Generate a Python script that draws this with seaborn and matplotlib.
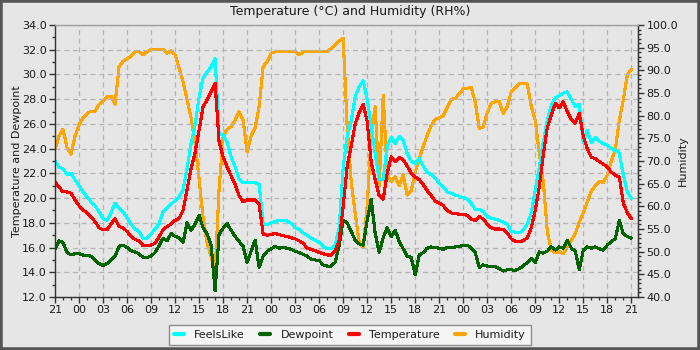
import numpy as np
import pandas as pd
import matplotlib
matplotlib.use("Agg")
import matplotlib.pyplot as plt
import seaborn as sns
from matplotlib.ticker import MultipleLocator, FixedLocator, FormatStrFormatter
from matplotlib.patches import Rectangle
from matplotlib.lines import Line2D

# Half-hourly readings over three days, starting at 21:00
feels_like = [
    23.0, 22.5, 22.4, 21.9, 22.0, 21.5, 21.0, 20.5, 20.1, 19.7,
    19.4, 18.9, 18.35, 18.2, 18.8, 19.6, 19.2, 18.9, 18.4, 17.9,
    17.5, 17.3, 16.75, 16.75, 17.1, 17.5, 17.9, 18.9, 19.2, 19.5,
    19.8, 20.1, 20.65, 22.4, 24.4, 25.9, 28.2, 29.7, 30.2, 30.6,
    31.3, 25.2, 25.1, 24.5, 23.35, 22.55, 21.5, 21.25, 21.3, 21.25,
    21.25, 21.1, 17.9, 17.85, 18.0, 18.1, 18.2, 18.2, 18.15, 17.95,
    17.6, 17.45, 17.2, 17.0, 16.75, 16.6, 16.4, 16.1, 15.9, 15.9,
    16.2, 17.6, 22.5, 25.0, 26.2, 28.2, 29.0, 29.5, 28.0, 25.8,
    23.6, 21.5, 21.5, 24.2, 24.9, 24.4, 25.0, 24.7, 23.6, 23.0,
    22.8, 23.2, 22.6, 22.1, 21.9, 21.6, 21.2, 20.9, 20.5, 20.4,
    20.25, 20.15, 20.05, 19.95, 19.55, 19.1, 19.1, 18.9, 18.55, 18.35,
    18.3, 18.2, 18.05, 17.9, 17.3, 17.25, 17.2, 17.4, 17.9, 18.8,
    20.65, 22.5, 24.5, 26.3, 27.5, 28.1, 28.3, 28.5, 28.6, 28.0,
    27.4, 27.6, 24.5, 25.5, 24.5, 24.9, 24.6, 24.4, 24.3, 24.0,
    23.9, 23.6, 21.9, 20.5, 20.0,
]

dewpoint = [
    15.9, 16.55, 16.4, 15.6, 15.4, 15.5, 15.5, 15.4, 15.35, 15.3,
    15.0, 14.7, 14.55, 14.7, 15.0, 15.3, 16.1, 16.2, 16.0, 15.75,
    15.65, 15.5, 15.2, 15.2, 15.3, 15.6, 16.15, 16.75, 16.55, 17.15,
    16.9, 16.8, 16.4, 18.0, 17.4, 17.9, 18.6, 17.6, 17.1, 16.2,
    12.5, 17.1, 17.55, 17.95, 17.4, 16.9, 16.5, 16.1, 14.8, 15.7,
    16.6, 14.4, 15.3, 15.7, 15.9, 16.1, 15.95, 16.0, 15.95, 15.85,
    15.7, 15.6, 15.45, 15.3, 15.05, 15.0, 14.95, 14.6, 14.5, 14.5,
    14.8, 16.2, 18.2, 18.0, 17.3, 16.6, 16.3, 16.2, 18.2, 19.9,
    17.15, 15.6, 16.8, 17.6, 16.9, 17.4, 16.5, 15.9, 15.3, 15.2,
    13.8, 15.4, 15.6, 15.95, 16.05, 16.0, 15.95, 15.85, 16.0, 16.0,
    16.05, 16.1, 16.15, 16.2, 15.95, 15.6, 14.4, 14.6, 14.5, 14.45,
    14.45, 14.3, 14.1, 14.2, 14.2, 14.15, 14.3, 14.5, 14.8, 15.1,
    14.8, 15.65, 15.55, 15.7, 16.05, 15.8, 16.05, 15.95, 16.6, 15.95,
    15.7, 14.2, 15.8, 16.05, 15.95, 16.05, 15.9, 15.8, 16.2, 16.5,
    16.7, 18.2, 17.1, 16.9, 16.75,
]

temperature = [
    21.3, 20.9, 20.5, 20.5, 20.4, 19.85, 19.4, 19.05, 18.8, 18.45,
    18.1, 17.6, 17.45, 17.45, 17.9, 18.35, 17.7, 17.6, 17.3, 16.95,
    16.65, 16.55, 16.15, 16.15, 16.2, 16.35, 16.85, 17.45, 17.7, 17.9,
    18.2, 18.35, 19.0, 20.7, 22.4, 23.7, 25.5, 27.4, 27.95, 28.6,
    29.3, 24.5, 23.35, 22.5, 21.8, 21.1, 20.2, 19.7, 19.85, 19.85,
    19.85, 19.5, 17.1, 17.0, 17.05, 17.15, 17.05, 16.95, 16.9, 16.8,
    16.7, 16.55, 16.35, 15.95, 15.85, 15.75, 15.6, 15.5, 15.4, 15.4,
    15.7, 16.6, 19.3, 22.6, 24.2, 26.0, 26.9, 27.6, 26.2, 22.9,
    21.5, 20.2, 19.9, 22.0, 23.35, 22.95, 23.3, 23.1, 22.6, 22.0,
    21.7, 21.5, 21.1, 20.6, 20.2, 19.75, 19.6, 19.4, 19.0, 18.8,
    18.75, 18.7, 18.7, 18.6, 18.3, 18.2, 18.5, 18.3, 17.9, 17.6,
    17.5, 17.5, 17.45, 17.2, 16.7, 16.5, 16.5, 16.55, 16.8, 17.6,
    19.0, 20.9, 23.5, 25.7, 26.7, 27.65, 27.3, 27.8, 27.0, 26.35,
    26.05, 26.85, 25.0, 24.0, 23.3, 23.2, 22.95, 22.75, 22.5, 22.1,
    21.85, 21.7, 19.6, 18.8, 18.35,
]

humidity = [
    72.5, 75.5, 77.0, 73.0, 71.5, 75.5, 78.0, 79.5, 80.5, 81.0,
    81.0, 82.5, 83.2, 84.2, 84.3, 82.5, 90.8, 92.0, 92.5, 93.2,
    94.1, 94.1, 93.5, 94.1, 94.6, 94.6, 94.6, 94.6, 93.8, 94.3,
    93.5, 90.5, 87.5, 83.5, 79.5, 74.0, 66.0, 57.5, 52.0, 48.9,
    45.5, 64.0, 75.4, 77.0, 77.6, 79.0, 80.9, 79.0, 72.0, 75.5,
    77.3, 82.0, 90.8, 91.9, 93.8, 94.1, 94.1, 94.1, 94.1, 94.1,
    94.1, 93.4, 94.1, 94.1, 94.1, 94.1, 94.1, 94.1, 94.1, 94.8,
    95.6, 96.5, 97.1, 77.6, 65.5, 58.5, 52.0, 51.0, 60.0, 76.0,
    82.0, 64.5, 84.5, 67.0, 65.5, 66.5, 64.5, 67.0, 62.5, 63.5,
    67.5, 70.5, 73.2, 75.7, 77.8, 79.2, 79.5, 80.0, 81.8, 83.6,
    83.8, 84.8, 85.9, 86.0, 86.3, 83.0, 77.2, 77.5, 80.7, 82.7,
    83.1, 83.1, 80.5, 82.0, 85.3, 86.2, 87.1, 87.1, 87.0, 82.0,
    79.0, 71.7, 65.5, 54.5, 50.3, 49.8, 50.0, 49.5, 51.1, 52.5,
    54.0, 56.5, 58.6, 61.0, 63.4, 64.5, 65.5, 65.3, 66.9, 70.0,
    72.5, 79.0, 83.5, 89.0, 90.2,
]

tick_labels = ["21", "00", "03", "06", "09", "12", "15", "18"] * 3 + ["21"]

series_names = ["FeelsLike", "Dewpoint", "Temperature", "Humidity"]
series_colors = ["#00ffff", "#006400", "#ff0000", "#ffa500"]

hours = np.arange(len(temperature)) * 0.5
df = pd.DataFrame({
    "hour": hours,
    "FeelsLike": feels_like,
    "Dewpoint": dewpoint,
    "Temperature": temperature,
    "Humidity": humidity,
})

sns.set_style("ticks")
plt.rcParams["font.family"] = ["DejaVu Sans"]

BG = "#e6e6e6"
TEXT = "#1a1a1a"
fig = plt.figure(figsize=(7, 3.5), dpi=100, facecolor=BG)
ax = fig.add_axes([0.0786, 0.1514, 0.833, 0.7771])
ax2 = ax.twinx()

# humidity sits behind the temperature traces
ax.set_zorder(2)
ax2.set_zorder(1)
ax.patch.set_visible(False)
ax2.patch.set_visible(True)
ax2.patch.set_facecolor(BG)

colors = dict(zip(series_names, series_colors))
for name in ["FeelsLike", "Dewpoint", "Temperature"]:
    sns.lineplot(data=df, x="hour", y=name, ax=ax, color=colors[name],
                 linewidth=1.5, legend=False, antialiased=False)
sns.lineplot(data=df, x="hour", y="Humidity", ax=ax2, color=colors["Humidity"],
             linewidth=1.5, legend=False, antialiased=False)

ax.set_xlim(0, 72.85)
ax.set_ylim(12, 34)
ax2.set_ylim(40, 100)

ax.xaxis.set_major_locator(FixedLocator(np.arange(0, 73, 3)))
ax.set_xticklabels(tick_labels)
ax.xaxis.set_minor_locator(MultipleLocator(1))
ax.yaxis.set_major_locator(MultipleLocator(2))
ax.yaxis.set_minor_locator(MultipleLocator(1))
ax.yaxis.set_major_formatter(FormatStrFormatter("%.1f"))
ax2.yaxis.set_major_locator(MultipleLocator(5))
ax2.yaxis.set_minor_locator(MultipleLocator(1))
ax2.yaxis.set_major_formatter(FormatStrFormatter("%.1f"))

for a in (ax, ax2):
    a.tick_params(which="major", direction="out", length=4, width=1,
                  color="#333333", labelsize=8, labelcolor=TEXT, pad=2)
    a.tick_params(which="minor", direction="out", length=2, width=1,
                  color="#333333")
    a.set_xlabel("")

ax.grid(which="major", color="#b4b4b4", linestyle=(0, (4, 3)), linewidth=0.9)
ax2.grid(False)

for side in ("left", "bottom", "right"):
    ax.spines[side].set_color("#333333")
    ax.spines[side].set_linewidth(1)
ax.spines["top"].set_color("#a0a0a0")
ax.spines["top"].set_linewidth(1)
for side in ("left", "bottom", "top"):
    ax2.spines[side].set_visible(False)
ax2.spines["right"].set_color("#333333")

ax.set_ylabel("Temperature and Dewpoint", fontsize=8, color=TEXT, labelpad=0)
ax2.set_ylabel("Humidity", fontsize=8, color=TEXT, labelpad=0)

fig.text(0.5, 1 - 12 / 350, "Temperature (\u00b0C) and Humidity (RH%)",
         ha="center", va="center", fontsize=9, color=TEXT)

handles = [Line2D([], [], color=c, linewidth=3) for c in series_colors]
leg = fig.legend(handles, series_names, loc="upper center",
                 bbox_to_anchor=(0.5, 1 - 325 / 350), ncol=4, fontsize=8,
                 frameon=True, fancybox=False, facecolor="#f5f5f5",
                 edgecolor="#8c8c8c", framealpha=1, handlelength=0.9,
                 handletextpad=0.9, columnspacing=1.4, borderpad=0.45,
                 borderaxespad=0)
for t in leg.get_texts():
    t.set_color(TEXT)

fig.patches.append(Rectangle((0, 0), 1, 1, transform=fig.transFigure,
                             fill=False, edgecolor="#555555", linewidth=4,
                             zorder=10))

fig.savefig("out.png", dpi=100, facecolor=BG)
